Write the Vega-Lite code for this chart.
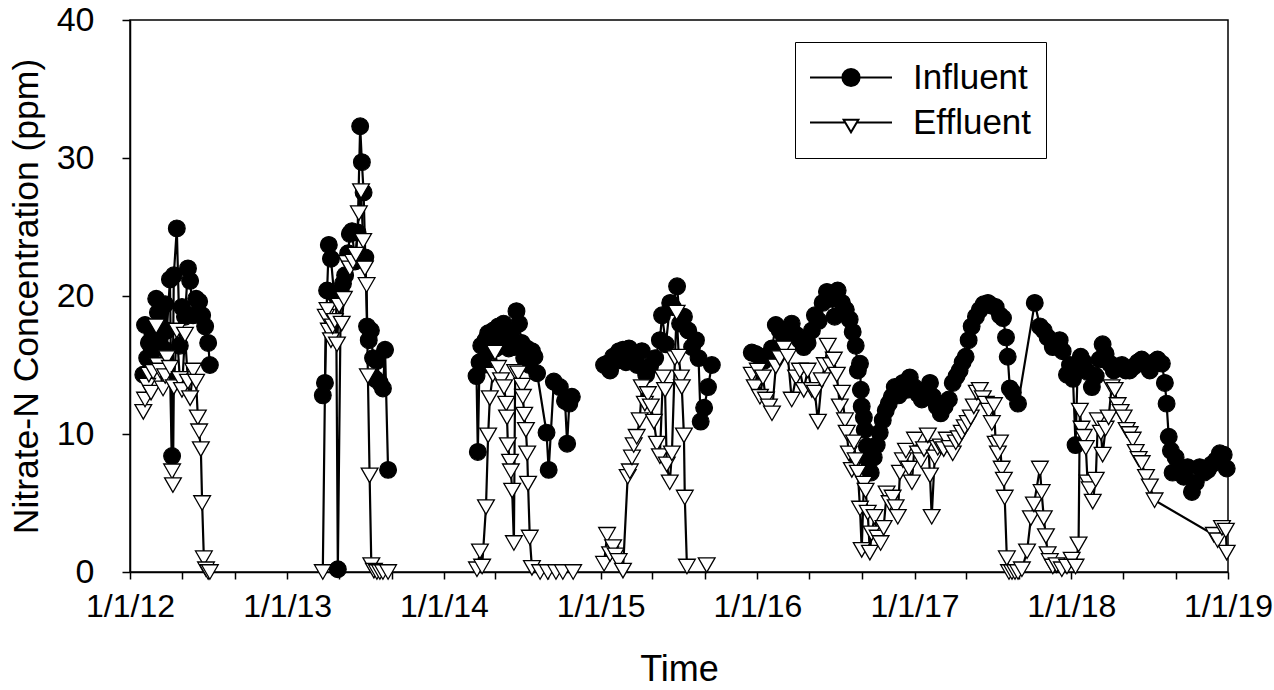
{
  "$schema": "https://vega.github.io/schema/vega-lite/v6.json",
  "autosize": "none",
  "width": 1098,
  "height": 552,
  "padding": {"left": 130, "top": 20, "right": 46, "bottom": 118},
  "background": "white",
  "config": {
    "font": "Liberation Sans",
    "view": {"stroke": "black", "strokeWidth": 1.5},
    "axis": {"domainColor": "black", "domainWidth": 1.5, "tickColor": "black", "tickWidth": 1.5, "labelColor": "black", "titleColor": "black", "labelFont": "Liberation Sans", "titleFont": "Liberation Sans", "titleFontWeight": "normal", "grid": false}
  },
  "data": {"values": [
    {"t":"2012-02-01","v":14.3,"s":"Influent","g":"I1"},
    {"t":"2012-02-05","v":17.9,"s":"Influent","g":"I1"},
    {"t":"2012-02-10","v":15.5,"s":"Influent","g":"I1"},
    {"t":"2012-02-14","v":16.6,"s":"Influent","g":"I1"},
    {"t":"2012-02-19","v":15.8,"s":"Influent","g":"I1"},
    {"t":"2012-02-24","v":17.2,"s":"Influent","g":"I1"},
    {"t":"2012-03-02","v":19.8,"s":"Influent","g":"I1"},
    {"t":"2012-03-06","v":18.8,"s":"Influent","g":"I1"},
    {"t":"2012-03-11","v":17.0,"s":"Influent","g":"I1"},
    {"t":"2012-03-18","v":16.2,"s":"Influent","g":"I1"},
    {"t":"2012-03-23","v":19.4,"s":"Influent","g":"I1"},
    {"t":"2012-03-27","v":17.5,"s":"Influent","g":"I1"},
    {"t":"2012-04-03","v":21.2,"s":"Influent","g":"I1"},
    {"t":"2012-04-08","v":8.4,"s":"Influent","g":"I1"},
    {"t":"2012-04-12","v":21.5,"s":"Influent","g":"I1"},
    {"t":"2012-04-19","v":24.9,"s":"Influent","g":"I1"},
    {"t":"2012-04-26","v":16.4,"s":"Influent","g":"I1"},
    {"t":"2012-05-01","v":19.2,"s":"Influent","g":"I1"},
    {"t":"2012-05-08","v":18.5,"s":"Influent","g":"I1"},
    {"t":"2012-05-15","v":22.0,"s":"Influent","g":"I1"},
    {"t":"2012-05-20","v":21.1,"s":"Influent","g":"I1"},
    {"t":"2012-05-27","v":18.6,"s":"Influent","g":"I1"},
    {"t":"2012-06-03","v":19.8,"s":"Influent","g":"I1"},
    {"t":"2012-06-10","v":19.6,"s":"Influent","g":"I1"},
    {"t":"2012-06-17","v":18.6,"s":"Influent","g":"I1"},
    {"t":"2012-06-24","v":17.8,"s":"Influent","g":"I1"},
    {"t":"2012-07-01","v":16.6,"s":"Influent","g":"I1"},
    {"t":"2012-07-05","v":15.0,"s":"Influent","g":"I1"},
    {"t":"2013-03-25","v":12.8,"s":"Influent","g":"I2"},
    {"t":"2013-03-30","v":13.7,"s":"Influent","g":"I2"},
    {"t":"2013-04-04","v":20.4,"s":"Influent","g":"I2"},
    {"t":"2013-04-08","v":23.7,"s":"Influent","g":"I2"},
    {"t":"2013-04-13","v":22.7,"s":"Influent","g":"I2"},
    {"t":"2013-04-20","v":20.2,"s":"Influent","g":"I2"},
    {"t":"2013-04-25","v":20.0,"s":"Influent","g":"I2"},
    {"t":"2013-04-29","v":0.2,"s":"Influent","g":"I2"},
    {"t":"2013-05-06","v":20.3,"s":"Influent","g":"I2"},
    {"t":"2013-05-11","v":20.9,"s":"Influent","g":"I2"},
    {"t":"2013-05-16","v":21.5,"s":"Influent","g":"I2"},
    {"t":"2013-05-23","v":23.1,"s":"Influent","g":"I2"},
    {"t":"2013-05-27","v":24.5,"s":"Influent","g":"I2"},
    {"t":"2013-06-01","v":24.7,"s":"Influent","g":"I2"},
    {"t":"2013-06-08","v":22.5,"s":"Influent","g":"I2"},
    {"t":"2013-06-14","v":24.6,"s":"Influent","g":"I2"},
    {"t":"2013-06-20","v":32.3,"s":"Influent","g":"I2"},
    {"t":"2013-06-24","v":29.7,"s":"Influent","g":"I2"},
    {"t":"2013-06-28","v":27.5,"s":"Influent","g":"I2"},
    {"t":"2013-07-02","v":22.8,"s":"Influent","g":"I2"},
    {"t":"2013-07-06","v":17.8,"s":"Influent","g":"I2"},
    {"t":"2013-07-10","v":16.8,"s":"Influent","g":"I2"},
    {"t":"2013-07-15","v":17.5,"s":"Influent","g":"I2"},
    {"t":"2013-07-20","v":15.5,"s":"Influent","g":"I2"},
    {"t":"2013-07-25","v":14.0,"s":"Influent","g":"I2"},
    {"t":"2013-07-29","v":15.3,"s":"Influent","g":"I2"},
    {"t":"2013-08-05","v":13.7,"s":"Influent","g":"I2"},
    {"t":"2013-08-12","v":13.3,"s":"Influent","g":"I2"},
    {"t":"2013-08-17","v":16.1,"s":"Influent","g":"I2"},
    {"t":"2013-08-24","v":7.4,"s":"Influent","g":"I2"},
    {"t":"2014-03-18","v":14.2,"s":"Influent","g":"I3"},
    {"t":"2014-03-21","v":8.7,"s":"Influent","g":"I3"},
    {"t":"2014-03-25","v":15.2,"s":"Influent","g":"I3"},
    {"t":"2014-03-29","v":16.4,"s":"Influent","g":"I3"},
    {"t":"2014-04-03","v":15.0,"s":"Influent","g":"I3"},
    {"t":"2014-04-08","v":16.8,"s":"Influent","g":"I3"},
    {"t":"2014-04-14","v":17.3,"s":"Influent","g":"I3"},
    {"t":"2014-04-20","v":16.0,"s":"Influent","g":"I3"},
    {"t":"2014-04-26","v":17.5,"s":"Influent","g":"I3"},
    {"t":"2014-05-02","v":16.2,"s":"Influent","g":"I3"},
    {"t":"2014-05-08","v":17.8,"s":"Influent","g":"I3"},
    {"t":"2014-05-14","v":16.5,"s":"Influent","g":"I3"},
    {"t":"2014-05-20","v":18.0,"s":"Influent","g":"I3"},
    {"t":"2014-05-26","v":17.0,"s":"Influent","g":"I3"},
    {"t":"2014-06-01","v":16.2,"s":"Influent","g":"I3"},
    {"t":"2014-06-07","v":17.4,"s":"Influent","g":"I3"},
    {"t":"2014-06-13","v":16.3,"s":"Influent","g":"I3"},
    {"t":"2014-06-19","v":18.9,"s":"Influent","g":"I3"},
    {"t":"2014-06-25","v":18.0,"s":"Influent","g":"I3"},
    {"t":"2014-07-01","v":16.6,"s":"Influent","g":"I3"},
    {"t":"2014-07-07","v":15.5,"s":"Influent","g":"I3"},
    {"t":"2014-07-13","v":16.2,"s":"Influent","g":"I3"},
    {"t":"2014-07-19","v":15.0,"s":"Influent","g":"I3"},
    {"t":"2014-07-25","v":16.0,"s":"Influent","g":"I3"},
    {"t":"2014-07-31","v":15.6,"s":"Influent","g":"I3"},
    {"t":"2014-08-06","v":14.4,"s":"Influent","g":"I3"},
    {"t":"2014-08-28","v":10.1,"s":"Influent","g":"I3"},
    {"t":"2014-09-02","v":7.4,"s":"Influent","g":"I3"},
    {"t":"2014-09-14","v":13.8,"s":"Influent","g":"I3"},
    {"t":"2014-09-28","v":13.4,"s":"Influent","g":"I3"},
    {"t":"2014-10-10","v":12.4,"s":"Influent","g":"I3"},
    {"t":"2014-10-15","v":9.3,"s":"Influent","g":"I3"},
    {"t":"2014-10-20","v":12.2,"s":"Influent","g":"I3"},
    {"t":"2014-10-26","v":12.7,"s":"Influent","g":"I3"},
    {"t":"2015-01-09","v":15.0,"s":"Influent","g":"I4"},
    {"t":"2015-01-16","v":15.1,"s":"Influent","g":"I4"},
    {"t":"2015-01-23","v":14.6,"s":"Influent","g":"I4"},
    {"t":"2015-01-30","v":15.6,"s":"Influent","g":"I4"},
    {"t":"2015-02-06","v":15.3,"s":"Influent","g":"I4"},
    {"t":"2015-02-13","v":16.0,"s":"Influent","g":"I4"},
    {"t":"2015-02-22","v":16.1,"s":"Influent","g":"I4"},
    {"t":"2015-03-01","v":15.2,"s":"Influent","g":"I4"},
    {"t":"2015-03-08","v":16.2,"s":"Influent","g":"I4"},
    {"t":"2015-03-17","v":15.4,"s":"Influent","g":"I4"},
    {"t":"2015-03-27","v":15.0,"s":"Influent","g":"I4"},
    {"t":"2015-04-07","v":16.0,"s":"Influent","g":"I4"},
    {"t":"2015-04-17","v":14.3,"s":"Influent","g":"I4"},
    {"t":"2015-04-26","v":14.9,"s":"Influent","g":"I4"},
    {"t":"2015-05-08","v":15.5,"s":"Influent","g":"I4"},
    {"t":"2015-05-19","v":16.8,"s":"Influent","g":"I4"},
    {"t":"2015-05-24","v":18.6,"s":"Influent","g":"I4"},
    {"t":"2015-06-02","v":16.5,"s":"Influent","g":"I4"},
    {"t":"2015-06-12","v":19.5,"s":"Influent","g":"I4"},
    {"t":"2015-06-18","v":19.2,"s":"Influent","g":"I4"},
    {"t":"2015-06-28","v":20.7,"s":"Influent","g":"I4"},
    {"t":"2015-07-05","v":18.0,"s":"Influent","g":"I4"},
    {"t":"2015-07-14","v":18.5,"s":"Influent","g":"I4"},
    {"t":"2015-07-24","v":17.5,"s":"Influent","g":"I4"},
    {"t":"2015-08-02","v":16.3,"s":"Influent","g":"I4"},
    {"t":"2015-08-11","v":16.8,"s":"Influent","g":"I4"},
    {"t":"2015-08-17","v":15.5,"s":"Influent","g":"I4"},
    {"t":"2015-08-22","v":10.9,"s":"Influent","g":"I4"},
    {"t":"2015-08-30","v":11.9,"s":"Influent","g":"I4"},
    {"t":"2015-09-08","v":13.4,"s":"Influent","g":"I4"},
    {"t":"2015-09-17","v":15.0,"s":"Influent","g":"I4"},
    {"t":"2015-12-19","v":15.9,"s":"Influent","g":"I5"},
    {"t":"2015-12-28","v":15.8,"s":"Influent","g":"I5"},
    {"t":"2016-01-07","v":15.6,"s":"Influent","g":"I5"},
    {"t":"2016-01-16","v":15.3,"s":"Influent","g":"I5"},
    {"t":"2016-01-25","v":15.6,"s":"Influent","g":"I5"},
    {"t":"2016-02-04","v":16.2,"s":"Influent","g":"I5"},
    {"t":"2016-02-13","v":17.9,"s":"Influent","g":"I5"},
    {"t":"2016-02-22","v":17.5,"s":"Influent","g":"I5"},
    {"t":"2016-03-03","v":17.0,"s":"Influent","g":"I5"},
    {"t":"2016-03-12","v":17.6,"s":"Influent","g":"I5"},
    {"t":"2016-03-21","v":18.0,"s":"Influent","g":"I5"},
    {"t":"2016-03-31","v":17.2,"s":"Influent","g":"I5"},
    {"t":"2016-04-09","v":16.8,"s":"Influent","g":"I5"},
    {"t":"2016-04-18","v":16.3,"s":"Influent","g":"I5"},
    {"t":"2016-04-27","v":16.6,"s":"Influent","g":"I5"},
    {"t":"2016-05-07","v":17.5,"s":"Influent","g":"I5"},
    {"t":"2016-05-14","v":18.6,"s":"Influent","g":"I5"},
    {"t":"2016-05-23","v":18.2,"s":"Influent","g":"I5"},
    {"t":"2016-06-01","v":19.5,"s":"Influent","g":"I5"},
    {"t":"2016-06-11","v":20.3,"s":"Influent","g":"I5"},
    {"t":"2016-06-20","v":19.8,"s":"Influent","g":"I5"},
    {"t":"2016-06-29","v":18.5,"s":"Influent","g":"I5"},
    {"t":"2016-07-06","v":20.4,"s":"Influent","g":"I5"},
    {"t":"2016-07-16","v":19.5,"s":"Influent","g":"I5"},
    {"t":"2016-07-25","v":19.0,"s":"Influent","g":"I5"},
    {"t":"2016-08-03","v":18.3,"s":"Influent","g":"I5"},
    {"t":"2016-08-10","v":17.4,"s":"Influent","g":"I5"},
    {"t":"2016-08-17","v":16.4,"s":"Influent","g":"I5"},
    {"t":"2016-08-22","v":14.6,"s":"Influent","g":"I5"},
    {"t":"2016-08-27","v":15.1,"s":"Influent","g":"I5"},
    {"t":"2016-08-29","v":13.2,"s":"Influent","g":"I5"},
    {"t":"2016-08-31","v":12.0,"s":"Influent","g":"I5"},
    {"t":"2016-09-05","v":11.2,"s":"Influent","g":"I5"},
    {"t":"2016-09-07","v":10.3,"s":"Influent","g":"I5"},
    {"t":"2016-09-12","v":9.1,"s":"Influent","g":"I5"},
    {"t":"2016-09-16","v":8.1,"s":"Influent","g":"I5"},
    {"t":"2016-09-21","v":7.2,"s":"Influent","g":"I5"},
    {"t":"2016-09-28","v":8.3,"s":"Influent","g":"I5"},
    {"t":"2016-10-05","v":9.2,"s":"Influent","g":"I5"},
    {"t":"2016-10-12","v":10.1,"s":"Influent","g":"I5"},
    {"t":"2016-10-19","v":11.0,"s":"Influent","g":"I5"},
    {"t":"2016-10-26","v":11.7,"s":"Influent","g":"I5"},
    {"t":"2016-11-02","v":12.2,"s":"Influent","g":"I5"},
    {"t":"2016-11-09","v":12.7,"s":"Influent","g":"I5"},
    {"t":"2016-11-16","v":13.4,"s":"Influent","g":"I5"},
    {"t":"2016-11-25","v":12.8,"s":"Influent","g":"I5"},
    {"t":"2016-12-05","v":13.7,"s":"Influent","g":"I5"},
    {"t":"2016-12-14","v":13.2,"s":"Influent","g":"I5"},
    {"t":"2016-12-21","v":14.1,"s":"Influent","g":"I5"},
    {"t":"2016-12-31","v":13.4,"s":"Influent","g":"I5"},
    {"t":"2017-01-09","v":12.9,"s":"Influent","g":"I5"},
    {"t":"2017-01-18","v":12.5,"s":"Influent","g":"I5"},
    {"t":"2017-01-27","v":13.2,"s":"Influent","g":"I5"},
    {"t":"2017-02-06","v":13.7,"s":"Influent","g":"I5"},
    {"t":"2017-02-13","v":12.7,"s":"Influent","g":"I5"},
    {"t":"2017-02-22","v":12.0,"s":"Influent","g":"I5"},
    {"t":"2017-03-03","v":11.5,"s":"Influent","g":"I5"},
    {"t":"2017-03-12","v":12.0,"s":"Influent","g":"I5"},
    {"t":"2017-03-22","v":12.5,"s":"Influent","g":"I5"},
    {"t":"2017-03-31","v":13.7,"s":"Influent","g":"I5"},
    {"t":"2017-04-09","v":14.2,"s":"Influent","g":"I5"},
    {"t":"2017-04-16","v":14.6,"s":"Influent","g":"I5"},
    {"t":"2017-04-23","v":15.2,"s":"Influent","g":"I5"},
    {"t":"2017-04-30","v":15.6,"s":"Influent","g":"I5"},
    {"t":"2017-05-07","v":16.8,"s":"Influent","g":"I5"},
    {"t":"2017-05-14","v":17.8,"s":"Influent","g":"I5"},
    {"t":"2017-05-24","v":18.5,"s":"Influent","g":"I5"},
    {"t":"2017-06-02","v":19.0,"s":"Influent","g":"I5"},
    {"t":"2017-06-11","v":19.4,"s":"Influent","g":"I5"},
    {"t":"2017-06-21","v":19.5,"s":"Influent","g":"I5"},
    {"t":"2017-06-30","v":19.3,"s":"Influent","g":"I5"},
    {"t":"2017-07-09","v":19.2,"s":"Influent","g":"I5"},
    {"t":"2017-07-19","v":18.6,"s":"Influent","g":"I5"},
    {"t":"2017-07-26","v":18.4,"s":"Influent","g":"I5"},
    {"t":"2017-08-02","v":17.0,"s":"Influent","g":"I5"},
    {"t":"2017-08-06","v":15.6,"s":"Influent","g":"I5"},
    {"t":"2017-08-11","v":13.3,"s":"Influent","g":"I5"},
    {"t":"2017-08-18","v":13.0,"s":"Influent","g":"I5"},
    {"t":"2017-08-30","v":12.2,"s":"Influent","g":"I5"},
    {"t":"2017-10-08","v":19.5,"s":"Influent","g":"I5"},
    {"t":"2017-10-20","v":17.8,"s":"Influent","g":"I5"},
    {"t":"2017-10-29","v":17.5,"s":"Influent","g":"I5"},
    {"t":"2017-11-07","v":17.0,"s":"Influent","g":"I5"},
    {"t":"2017-11-19","v":16.3,"s":"Influent","g":"I5"},
    {"t":"2017-11-28","v":16.5,"s":"Influent","g":"I5"},
    {"t":"2017-12-05","v":16.8,"s":"Influent","g":"I5"},
    {"t":"2017-12-12","v":16.0,"s":"Influent","g":"I5"},
    {"t":"2017-12-22","v":14.3,"s":"Influent","g":"I5"},
    {"t":"2017-12-29","v":15.0,"s":"Influent","g":"I5"},
    {"t":"2018-01-05","v":14.0,"s":"Influent","g":"I5"},
    {"t":"2018-01-11","v":9.2,"s":"Influent","g":"I5"},
    {"t":"2018-01-16","v":14.9,"s":"Influent","g":"I5"},
    {"t":"2018-01-23","v":15.6,"s":"Influent","g":"I5"},
    {"t":"2018-01-30","v":15.2,"s":"Influent","g":"I5"},
    {"t":"2018-02-08","v":14.5,"s":"Influent","g":"I5"},
    {"t":"2018-02-18","v":13.4,"s":"Influent","g":"I5"},
    {"t":"2018-02-27","v":14.2,"s":"Influent","g":"I5"},
    {"t":"2018-03-08","v":15.4,"s":"Influent","g":"I5"},
    {"t":"2018-03-15","v":16.5,"s":"Influent","g":"I5"},
    {"t":"2018-03-22","v":15.8,"s":"Influent","g":"I5"},
    {"t":"2018-04-01","v":15.1,"s":"Influent","g":"I5"},
    {"t":"2018-04-10","v":14.6,"s":"Influent","g":"I5"},
    {"t":"2018-04-19","v":14.9,"s":"Influent","g":"I5"},
    {"t":"2018-04-29","v":15.0,"s":"Influent","g":"I5"},
    {"t":"2018-05-08","v":14.6,"s":"Influent","g":"I5"},
    {"t":"2018-05-17","v":14.6,"s":"Influent","g":"I5"},
    {"t":"2018-05-27","v":14.9,"s":"Influent","g":"I5"},
    {"t":"2018-06-05","v":15.2,"s":"Influent","g":"I5"},
    {"t":"2018-06-14","v":15.4,"s":"Influent","g":"I5"},
    {"t":"2018-06-24","v":15.0,"s":"Influent","g":"I5"},
    {"t":"2018-07-03","v":14.6,"s":"Influent","g":"I5"},
    {"t":"2018-07-12","v":15.2,"s":"Influent","g":"I5"},
    {"t":"2018-07-21","v":15.4,"s":"Influent","g":"I5"},
    {"t":"2018-07-31","v":15.1,"s":"Influent","g":"I5"},
    {"t":"2018-08-07","v":13.7,"s":"Influent","g":"I5"},
    {"t":"2018-08-11","v":12.2,"s":"Influent","g":"I5"},
    {"t":"2018-08-16","v":9.8,"s":"Influent","g":"I5"},
    {"t":"2018-08-21","v":8.8,"s":"Influent","g":"I5"},
    {"t":"2018-08-25","v":7.2,"s":"Influent","g":"I5"},
    {"t":"2018-09-01","v":8.3,"s":"Influent","g":"I5"},
    {"t":"2018-09-11","v":7.6,"s":"Influent","g":"I5"},
    {"t":"2018-09-20","v":6.9,"s":"Influent","g":"I5"},
    {"t":"2018-09-29","v":7.6,"s":"Influent","g":"I5"},
    {"t":"2018-10-09","v":5.8,"s":"Influent","g":"I5"},
    {"t":"2018-10-18","v":6.5,"s":"Influent","g":"I5"},
    {"t":"2018-10-27","v":7.6,"s":"Influent","g":"I5"},
    {"t":"2018-11-06","v":7.2,"s":"Influent","g":"I5"},
    {"t":"2018-11-15","v":7.4,"s":"Influent","g":"I5"},
    {"t":"2018-11-24","v":7.8,"s":"Influent","g":"I5"},
    {"t":"2018-12-04","v":8.1,"s":"Influent","g":"I5"},
    {"t":"2018-12-13","v":8.6,"s":"Influent","g":"I5"},
    {"t":"2018-12-22","v":8.5,"s":"Influent","g":"I5"},
    {"t":"2018-12-29","v":7.5,"s":"Influent","g":"I5"},
    {"t":"2012-02-01","v":11.6,"s":"Effluent","g":"E1"},
    {"t":"2012-02-05","v":12.5,"s":"Effluent","g":"E1"},
    {"t":"2012-02-10","v":13.5,"s":"Effluent","g":"E1"},
    {"t":"2012-02-14","v":14.3,"s":"Effluent","g":"E1"},
    {"t":"2012-02-19","v":13.0,"s":"Effluent","g":"E1"},
    {"t":"2012-02-24","v":14.5,"s":"Effluent","g":"E1"},
    {"t":"2012-03-02","v":17.8,"s":"Effluent","g":"E1"},
    {"t":"2012-03-06","v":15.0,"s":"Effluent","g":"E1"},
    {"t":"2012-03-11","v":14.6,"s":"Effluent","g":"E1"},
    {"t":"2012-03-18","v":13.3,"s":"Effluent","g":"E1"},
    {"t":"2012-03-23","v":14.2,"s":"Effluent","g":"E1"},
    {"t":"2012-03-27","v":15.5,"s":"Effluent","g":"E1"},
    {"t":"2012-04-03","v":14.8,"s":"Effluent","g":"E1"},
    {"t":"2012-04-08","v":7.3,"s":"Effluent","g":"E1"},
    {"t":"2012-04-10","v":6.3,"s":"Effluent","g":"E1"},
    {"t":"2012-04-12","v":13.4,"s":"Effluent","g":"E1"},
    {"t":"2012-04-19","v":17.5,"s":"Effluent","g":"E1"},
    {"t":"2012-04-26","v":14.0,"s":"Effluent","g":"E1"},
    {"t":"2012-05-01","v":13.2,"s":"Effluent","g":"E1"},
    {"t":"2012-05-08","v":17.2,"s":"Effluent","g":"E1"},
    {"t":"2012-05-15","v":13.8,"s":"Effluent","g":"E1"},
    {"t":"2012-05-20","v":12.6,"s":"Effluent","g":"E1"},
    {"t":"2012-05-27","v":14.6,"s":"Effluent","g":"E1"},
    {"t":"2012-06-03","v":13.8,"s":"Effluent","g":"E1"},
    {"t":"2012-06-07","v":11.2,"s":"Effluent","g":"E1"},
    {"t":"2012-06-10","v":10.2,"s":"Effluent","g":"E1"},
    {"t":"2012-06-14","v":8.9,"s":"Effluent","g":"E1"},
    {"t":"2012-06-17","v":5.0,"s":"Effluent","g":"E1"},
    {"t":"2012-06-21","v":1.0,"s":"Effluent","g":"E1"},
    {"t":"2012-06-26","v":0.2,"s":"Effluent","g":"E1"},
    {"t":"2012-07-01","v":0.0,"s":"Effluent","g":"E1"},
    {"t":"2012-07-05","v":0.0,"s":"Effluent","g":"E1"},
    {"t":"2013-03-25","v":0.0,"s":"Effluent","g":"E2"},
    {"t":"2013-04-01","v":18.5,"s":"Effluent","g":"E2"},
    {"t":"2013-04-05","v":19.0,"s":"Effluent","g":"E2"},
    {"t":"2013-04-08","v":17.5,"s":"Effluent","g":"E2"},
    {"t":"2013-04-13","v":16.8,"s":"Effluent","g":"E2"},
    {"t":"2013-04-17","v":17.8,"s":"Effluent","g":"E2"},
    {"t":"2013-04-22","v":18.2,"s":"Effluent","g":"E2"},
    {"t":"2013-04-27","v":16.5,"s":"Effluent","g":"E2"},
    {"t":"2013-05-02","v":19.3,"s":"Effluent","g":"E2"},
    {"t":"2013-05-08","v":18.0,"s":"Effluent","g":"E2"},
    {"t":"2013-05-13","v":19.8,"s":"Effluent","g":"E2"},
    {"t":"2013-05-20","v":22.4,"s":"Effluent","g":"E2"},
    {"t":"2013-05-27","v":22.0,"s":"Effluent","g":"E2"},
    {"t":"2013-06-03","v":22.5,"s":"Effluent","g":"E2"},
    {"t":"2013-06-10","v":23.0,"s":"Effluent","g":"E2"},
    {"t":"2013-06-17","v":26.0,"s":"Effluent","g":"E2"},
    {"t":"2013-06-22","v":27.6,"s":"Effluent","g":"E2"},
    {"t":"2013-06-27","v":24.0,"s":"Effluent","g":"E2"},
    {"t":"2013-07-01","v":22.0,"s":"Effluent","g":"E2"},
    {"t":"2013-07-05","v":20.8,"s":"Effluent","g":"E2"},
    {"t":"2013-07-08","v":14.2,"s":"Effluent","g":"E2"},
    {"t":"2013-07-12","v":7.0,"s":"Effluent","g":"E2"},
    {"t":"2013-07-16","v":0.5,"s":"Effluent","g":"E2"},
    {"t":"2013-07-22","v":0.1,"s":"Effluent","g":"E2"},
    {"t":"2013-07-29","v":0.0,"s":"Effluent","g":"E2"},
    {"t":"2013-08-05","v":0.0,"s":"Effluent","g":"E2"},
    {"t":"2013-08-12","v":0.0,"s":"Effluent","g":"E2"},
    {"t":"2013-08-24","v":0.0,"s":"Effluent","g":"E2"},
    {"t":"2014-03-19","v":0.2,"s":"Effluent","g":"E3"},
    {"t":"2014-03-26","v":1.5,"s":"Effluent","g":"E3"},
    {"t":"2014-03-31","v":0.4,"s":"Effluent","g":"E3"},
    {"t":"2014-04-09","v":4.7,"s":"Effluent","g":"E3"},
    {"t":"2014-04-14","v":9.9,"s":"Effluent","g":"E3"},
    {"t":"2014-04-18","v":12.6,"s":"Effluent","g":"E3"},
    {"t":"2014-04-25","v":14.3,"s":"Effluent","g":"E3"},
    {"t":"2014-04-30","v":15.9,"s":"Effluent","g":"E3"},
    {"t":"2014-05-07","v":14.8,"s":"Effluent","g":"E3"},
    {"t":"2014-05-14","v":13.9,"s":"Effluent","g":"E3"},
    {"t":"2014-05-21","v":13.4,"s":"Effluent","g":"E3"},
    {"t":"2014-05-26","v":12.2,"s":"Effluent","g":"E3"},
    {"t":"2014-05-28","v":11.2,"s":"Effluent","g":"E3"},
    {"t":"2014-05-30","v":9.2,"s":"Effluent","g":"E3"},
    {"t":"2014-06-04","v":8.0,"s":"Effluent","g":"E3"},
    {"t":"2014-06-06","v":7.3,"s":"Effluent","g":"E3"},
    {"t":"2014-06-09","v":5.9,"s":"Effluent","g":"E3"},
    {"t":"2014-06-13","v":2.1,"s":"Effluent","g":"E3"},
    {"t":"2014-06-16","v":14.5,"s":"Effluent","g":"E3"},
    {"t":"2014-06-23","v":14.4,"s":"Effluent","g":"E3"},
    {"t":"2014-07-02","v":13.5,"s":"Effluent","g":"E3"},
    {"t":"2014-07-04","v":12.7,"s":"Effluent","g":"E3"},
    {"t":"2014-07-07","v":11.4,"s":"Effluent","g":"E3"},
    {"t":"2014-07-11","v":10.3,"s":"Effluent","g":"E3"},
    {"t":"2014-07-14","v":8.6,"s":"Effluent","g":"E3"},
    {"t":"2014-07-16","v":6.4,"s":"Effluent","g":"E3"},
    {"t":"2014-07-20","v":2.5,"s":"Effluent","g":"E3"},
    {"t":"2014-07-25","v":0.3,"s":"Effluent","g":"E3"},
    {"t":"2014-08-13","v":0.0,"s":"Effluent","g":"E3"},
    {"t":"2014-08-31","v":0.0,"s":"Effluent","g":"E3"},
    {"t":"2014-09-19","v":0.0,"s":"Effluent","g":"E3"},
    {"t":"2014-10-05","v":0.0,"s":"Effluent","g":"E3"},
    {"t":"2014-10-29","v":0.0,"s":"Effluent","g":"E3"},
    {"t":"2015-01-09","v":0.6,"s":"Effluent","g":"E4"},
    {"t":"2015-01-16","v":2.7,"s":"Effluent","g":"E4"},
    {"t":"2015-01-23","v":1.3,"s":"Effluent","g":"E4"},
    {"t":"2015-01-30","v":1.8,"s":"Effluent","g":"E4"},
    {"t":"2015-02-05","v":1.2,"s":"Effluent","g":"E4"},
    {"t":"2015-02-12","v":0.8,"s":"Effluent","g":"E4"},
    {"t":"2015-02-22","v":0.1,"s":"Effluent","g":"E4"},
    {"t":"2015-03-05","v":6.9,"s":"Effluent","g":"E4"},
    {"t":"2015-03-10","v":7.3,"s":"Effluent","g":"E4"},
    {"t":"2015-03-15","v":8.3,"s":"Effluent","g":"E4"},
    {"t":"2015-03-19","v":9.2,"s":"Effluent","g":"E4"},
    {"t":"2015-03-26","v":9.8,"s":"Effluent","g":"E4"},
    {"t":"2015-04-02","v":11.0,"s":"Effluent","g":"E4"},
    {"t":"2015-04-07","v":13.4,"s":"Effluent","g":"E4"},
    {"t":"2015-04-14","v":12.2,"s":"Effluent","g":"E4"},
    {"t":"2015-04-21","v":12.9,"s":"Effluent","g":"E4"},
    {"t":"2015-04-28","v":12.0,"s":"Effluent","g":"E4"},
    {"t":"2015-05-05","v":10.9,"s":"Effluent","g":"E4"},
    {"t":"2015-05-12","v":9.3,"s":"Effluent","g":"E4"},
    {"t":"2015-05-19","v":8.4,"s":"Effluent","g":"E4"},
    {"t":"2015-05-26","v":14.1,"s":"Effluent","g":"E4"},
    {"t":"2015-05-31","v":13.2,"s":"Effluent","g":"E4"},
    {"t":"2015-06-04","v":7.8,"s":"Effluent","g":"E4"},
    {"t":"2015-06-11","v":6.5,"s":"Effluent","g":"E4"},
    {"t":"2015-06-16","v":8.6,"s":"Effluent","g":"E4"},
    {"t":"2015-06-23","v":15.5,"s":"Effluent","g":"E4"},
    {"t":"2015-06-27","v":18.8,"s":"Effluent","g":"E4"},
    {"t":"2015-07-02","v":15.6,"s":"Effluent","g":"E4"},
    {"t":"2015-07-07","v":14.1,"s":"Effluent","g":"E4"},
    {"t":"2015-07-09","v":13.4,"s":"Effluent","g":"E4"},
    {"t":"2015-07-14","v":9.9,"s":"Effluent","g":"E4"},
    {"t":"2015-07-16","v":5.4,"s":"Effluent","g":"E4"},
    {"t":"2015-07-21","v":0.4,"s":"Effluent","g":"E4"},
    {"t":"2015-09-05","v":0.5,"s":"Effluent","g":"E4b"},
    {"t":"2015-12-19","v":14.3,"s":"Effluent","g":"E5"},
    {"t":"2015-12-26","v":13.4,"s":"Effluent","g":"E5"},
    {"t":"2016-01-02","v":14.6,"s":"Effluent","g":"E5"},
    {"t":"2016-01-07","v":12.7,"s":"Effluent","g":"E5"},
    {"t":"2016-01-14","v":14.1,"s":"Effluent","g":"E5"},
    {"t":"2016-01-21","v":12.5,"s":"Effluent","g":"E5"},
    {"t":"2016-01-28","v":12.0,"s":"Effluent","g":"E5"},
    {"t":"2016-02-04","v":11.5,"s":"Effluent","g":"E5"},
    {"t":"2016-02-13","v":14.9,"s":"Effluent","g":"E5"},
    {"t":"2016-02-22","v":15.5,"s":"Effluent","g":"E5"},
    {"t":"2016-03-03","v":16.2,"s":"Effluent","g":"E5"},
    {"t":"2016-03-12","v":15.6,"s":"Effluent","g":"E5"},
    {"t":"2016-03-21","v":12.5,"s":"Effluent","g":"E5"},
    {"t":"2016-03-31","v":14.1,"s":"Effluent","g":"E5"},
    {"t":"2016-04-09","v":14.6,"s":"Effluent","g":"E5"},
    {"t":"2016-04-18","v":13.2,"s":"Effluent","g":"E5"},
    {"t":"2016-04-27","v":14.6,"s":"Effluent","g":"E5"},
    {"t":"2016-05-07","v":13.2,"s":"Effluent","g":"E5"},
    {"t":"2016-05-14","v":13.0,"s":"Effluent","g":"E5"},
    {"t":"2016-05-21","v":10.9,"s":"Effluent","g":"E5"},
    {"t":"2016-05-30","v":13.9,"s":"Effluent","g":"E5"},
    {"t":"2016-06-06","v":15.0,"s":"Effluent","g":"E5"},
    {"t":"2016-06-13","v":16.4,"s":"Effluent","g":"E5"},
    {"t":"2016-06-20","v":15.0,"s":"Effluent","g":"E5"},
    {"t":"2016-06-27","v":15.4,"s":"Effluent","g":"E5"},
    {"t":"2016-07-04","v":14.3,"s":"Effluent","g":"E5"},
    {"t":"2016-07-11","v":12.0,"s":"Effluent","g":"E5"},
    {"t":"2016-07-16","v":13.0,"s":"Effluent","g":"E5"},
    {"t":"2016-07-23","v":11.0,"s":"Effluent","g":"E5"},
    {"t":"2016-07-27","v":10.1,"s":"Effluent","g":"E5"},
    {"t":"2016-08-01","v":8.6,"s":"Effluent","g":"E5"},
    {"t":"2016-08-08","v":7.4,"s":"Effluent","g":"E5"},
    {"t":"2016-08-13","v":9.4,"s":"Effluent","g":"E5"},
    {"t":"2016-08-17","v":8.1,"s":"Effluent","g":"E5"},
    {"t":"2016-08-22","v":7.2,"s":"Effluent","g":"E5"},
    {"t":"2016-08-27","v":4.6,"s":"Effluent","g":"E5"},
    {"t":"2016-08-31","v":1.6,"s":"Effluent","g":"E5"},
    {"t":"2016-09-05","v":6.4,"s":"Effluent","g":"E5"},
    {"t":"2016-09-09","v":5.9,"s":"Effluent","g":"E5"},
    {"t":"2016-09-14","v":4.3,"s":"Effluent","g":"E5"},
    {"t":"2016-09-19","v":1.4,"s":"Effluent","g":"E5"},
    {"t":"2016-09-23","v":2.8,"s":"Effluent","g":"E5"},
    {"t":"2016-09-30","v":4.0,"s":"Effluent","g":"E5"},
    {"t":"2016-10-07","v":2.5,"s":"Effluent","g":"E5"},
    {"t":"2016-10-14","v":2.1,"s":"Effluent","g":"E5"},
    {"t":"2016-10-21","v":3.2,"s":"Effluent","g":"E5"},
    {"t":"2016-10-28","v":5.7,"s":"Effluent","g":"E5"},
    {"t":"2016-11-04","v":5.0,"s":"Effluent","g":"E5"},
    {"t":"2016-11-11","v":5.4,"s":"Effluent","g":"E5"},
    {"t":"2016-11-18","v":4.7,"s":"Effluent","g":"E5"},
    {"t":"2016-11-23","v":4.0,"s":"Effluent","g":"E5"},
    {"t":"2016-11-28","v":7.2,"s":"Effluent","g":"E5"},
    {"t":"2016-12-05","v":8.1,"s":"Effluent","g":"E5"},
    {"t":"2016-12-12","v":8.8,"s":"Effluent","g":"E5"},
    {"t":"2016-12-19","v":7.5,"s":"Effluent","g":"E5"},
    {"t":"2016-12-26","v":6.5,"s":"Effluent","g":"E5"},
    {"t":"2017-01-02","v":9.6,"s":"Effluent","g":"E5"},
    {"t":"2017-01-09","v":8.6,"s":"Effluent","g":"E5"},
    {"t":"2017-01-16","v":8.1,"s":"Effluent","g":"E5"},
    {"t":"2017-01-23","v":8.9,"s":"Effluent","g":"E5"},
    {"t":"2017-02-01","v":9.9,"s":"Effluent","g":"E5"},
    {"t":"2017-02-06","v":7.0,"s":"Effluent","g":"E5"},
    {"t":"2017-02-10","v":4.0,"s":"Effluent","g":"E5"},
    {"t":"2017-02-17","v":8.3,"s":"Effluent","g":"E5"},
    {"t":"2017-02-24","v":9.0,"s":"Effluent","g":"E5"},
    {"t":"2017-03-03","v":9.1,"s":"Effluent","g":"E5"},
    {"t":"2017-03-10","v":8.9,"s":"Effluent","g":"E5"},
    {"t":"2017-03-17","v":9.6,"s":"Effluent","g":"E5"},
    {"t":"2017-03-24","v":9.0,"s":"Effluent","g":"E5"},
    {"t":"2017-03-31","v":8.6,"s":"Effluent","g":"E5"},
    {"t":"2017-04-07","v":9.4,"s":"Effluent","g":"E5"},
    {"t":"2017-04-14","v":9.7,"s":"Effluent","g":"E5"},
    {"t":"2017-04-21","v":10.1,"s":"Effluent","g":"E5"},
    {"t":"2017-04-28","v":10.5,"s":"Effluent","g":"E5"},
    {"t":"2017-05-05","v":10.8,"s":"Effluent","g":"E5"},
    {"t":"2017-05-12","v":11.2,"s":"Effluent","g":"E5"},
    {"t":"2017-05-19","v":12.0,"s":"Effluent","g":"E5"},
    {"t":"2017-05-26","v":13.0,"s":"Effluent","g":"E5"},
    {"t":"2017-06-02","v":13.2,"s":"Effluent","g":"E5"},
    {"t":"2017-06-09","v":12.6,"s":"Effluent","g":"E5"},
    {"t":"2017-06-16","v":12.2,"s":"Effluent","g":"E5"},
    {"t":"2017-06-23","v":11.7,"s":"Effluent","g":"E5"},
    {"t":"2017-06-30","v":10.8,"s":"Effluent","g":"E5"},
    {"t":"2017-07-05","v":12.1,"s":"Effluent","g":"E5"},
    {"t":"2017-07-09","v":9.3,"s":"Effluent","g":"E5"},
    {"t":"2017-07-14","v":8.6,"s":"Effluent","g":"E5"},
    {"t":"2017-07-19","v":9.4,"s":"Effluent","g":"E5"},
    {"t":"2017-07-23","v":7.5,"s":"Effluent","g":"E5"},
    {"t":"2017-07-28","v":6.7,"s":"Effluent","g":"E5"},
    {"t":"2017-07-30","v":5.4,"s":"Effluent","g":"E5"},
    {"t":"2017-08-04","v":1.0,"s":"Effluent","g":"E5"},
    {"t":"2017-08-09","v":0.0,"s":"Effluent","g":"E5"},
    {"t":"2017-08-16","v":0.0,"s":"Effluent","g":"E5"},
    {"t":"2017-08-23","v":0.0,"s":"Effluent","g":"E5"},
    {"t":"2017-08-30","v":0.0,"s":"Effluent","g":"E5"},
    {"t":"2017-09-08","v":0.2,"s":"Effluent","g":"E5"},
    {"t":"2017-09-20","v":1.5,"s":"Effluent","g":"E5"},
    {"t":"2017-09-29","v":3.9,"s":"Effluent","g":"E5"},
    {"t":"2017-10-06","v":4.9,"s":"Effluent","g":"E5"},
    {"t":"2017-10-20","v":7.5,"s":"Effluent","g":"E5"},
    {"t":"2017-10-24","v":5.8,"s":"Effluent","g":"E5"},
    {"t":"2017-10-29","v":3.9,"s":"Effluent","g":"E5"},
    {"t":"2017-11-03","v":2.6,"s":"Effluent","g":"E5"},
    {"t":"2017-11-07","v":1.3,"s":"Effluent","g":"E5"},
    {"t":"2017-11-12","v":0.8,"s":"Effluent","g":"E5"},
    {"t":"2017-11-19","v":0.4,"s":"Effluent","g":"E5"},
    {"t":"2017-11-28","v":0.5,"s":"Effluent","g":"E5"},
    {"t":"2017-12-10","v":0.2,"s":"Effluent","g":"E5"},
    {"t":"2017-12-22","v":0.4,"s":"Effluent","g":"E5"},
    {"t":"2018-01-02","v":0.9,"s":"Effluent","g":"E5"},
    {"t":"2018-01-11","v":0.4,"s":"Effluent","g":"E5"},
    {"t":"2018-01-18","v":2.0,"s":"Effluent","g":"E5"},
    {"t":"2018-01-21","v":11.7,"s":"Effluent","g":"E5"},
    {"t":"2018-01-25","v":10.4,"s":"Effluent","g":"E5"},
    {"t":"2018-01-30","v":9.8,"s":"Effluent","g":"E5"},
    {"t":"2018-02-04","v":9.0,"s":"Effluent","g":"E5"},
    {"t":"2018-02-08","v":6.5,"s":"Effluent","g":"E5"},
    {"t":"2018-02-13","v":6.0,"s":"Effluent","g":"E5"},
    {"t":"2018-02-20","v":5.1,"s":"Effluent","g":"E5"},
    {"t":"2018-02-27","v":6.7,"s":"Effluent","g":"E5"},
    {"t":"2018-03-04","v":11.0,"s":"Effluent","g":"E5"},
    {"t":"2018-03-11","v":10.1,"s":"Effluent","g":"E5"},
    {"t":"2018-03-15","v":8.5,"s":"Effluent","g":"E5"},
    {"t":"2018-03-22","v":10.4,"s":"Effluent","g":"E5"},
    {"t":"2018-03-29","v":11.2,"s":"Effluent","g":"E5"},
    {"t":"2018-04-05","v":13.4,"s":"Effluent","g":"E5"},
    {"t":"2018-04-12","v":13.2,"s":"Effluent","g":"E5"},
    {"t":"2018-04-19","v":12.1,"s":"Effluent","g":"E5"},
    {"t":"2018-04-26","v":11.6,"s":"Effluent","g":"E5"},
    {"t":"2018-05-03","v":11.2,"s":"Effluent","g":"E5"},
    {"t":"2018-05-10","v":10.3,"s":"Effluent","g":"E5"},
    {"t":"2018-05-17","v":10.0,"s":"Effluent","g":"E5"},
    {"t":"2018-05-24","v":9.6,"s":"Effluent","g":"E5"},
    {"t":"2018-05-31","v":8.7,"s":"Effluent","g":"E5"},
    {"t":"2018-06-07","v":8.2,"s":"Effluent","g":"E5"},
    {"t":"2018-06-14","v":7.9,"s":"Effluent","g":"E5"},
    {"t":"2018-06-24","v":6.9,"s":"Effluent","g":"E5"},
    {"t":"2018-07-03","v":6.2,"s":"Effluent","g":"E5"},
    {"t":"2018-07-14","v":5.2,"s":"Effluent","g":"E5"},
    {"t":"2018-11-29","v":2.7,"s":"Effluent","g":"E5"},
    {"t":"2018-12-08","v":2.3,"s":"Effluent","g":"E5"},
    {"t":"2018-12-18","v":3.2,"s":"Effluent","g":"E5"},
    {"t":"2018-12-27","v":3.0,"s":"Effluent","g":"E5"},
    {"t":"2018-12-29","v":1.4,"s":"Effluent","g":"E5"}
  ]},
  "encoding": {
    "x": {
      "field": "t", "type": "temporal",
      "scale": {"domain": [{"year": 2012, "month": 1, "date": 1}, {"year": 2019, "month": 1, "date": 1}]},
      "axis": {
        "title": "Time", "titleFontSize": 36, "titlePadding": 30,
        "values": [
          {"year": 2012, "month": 1, "date": 1}, {"year": 2012, "month": 5, "date": 1}, {"year": 2012, "month": 9, "date": 1},
          {"year": 2013, "month": 1, "date": 1}, {"year": 2013, "month": 5, "date": 1}, {"year": 2013, "month": 9, "date": 1},
          {"year": 2014, "month": 1, "date": 1}, {"year": 2014, "month": 5, "date": 1}, {"year": 2014, "month": 9, "date": 1},
          {"year": 2015, "month": 1, "date": 1}, {"year": 2015, "month": 5, "date": 1}, {"year": 2015, "month": 9, "date": 1},
          {"year": 2016, "month": 1, "date": 1}, {"year": 2016, "month": 5, "date": 1}, {"year": 2016, "month": 9, "date": 1},
          {"year": 2017, "month": 1, "date": 1}, {"year": 2017, "month": 5, "date": 1}, {"year": 2017, "month": 9, "date": 1},
          {"year": 2018, "month": 1, "date": 1}, {"year": 2018, "month": 5, "date": 1}, {"year": 2018, "month": 9, "date": 1},
          {"year": 2019, "month": 1, "date": 1}
        ],
        "labelExpr": "month(datum.value) === 0 ? timeFormat(datum.value, '%-m/%-d/%y') : ''",
        "labelFontSize": 32, "labelPadding": 12, "tickSize": 7, "labelFlush": false, "labelOverlap": false
      }
    },
    "y": {
      "field": "v", "type": "quantitative",
      "scale": {"domain": [0, 40]},
      "axis": {"title": "Nitrate-N Concentration (ppm)", "titleFontSize": 35.5, "titlePadding": 12, "values": [0, 10, 20, 30, 40], "labelFontSize": 34, "labelPadding": 28, "tickSize": 8}
    }
  },
  "layer": [
    {
      "transform": [{"filter": "datum.s === 'Influent'"}],
      "mark": {"type": "line", "color": "black", "strokeWidth": 2.2},
      "encoding": {"detail": {"field": "g"}}
    },
    {
      "transform": [{"filter": "datum.s === 'Influent'"}],
      "mark": {"type": "point", "shape": "circle", "filled": true, "fill": "black", "stroke": "black", "strokeWidth": 1.2, "size": 280, "opacity": 1}
    },
    {
      "transform": [{"filter": "datum.s === 'Effluent'"}],
      "mark": {"type": "line", "color": "black", "strokeWidth": 2.2},
      "encoding": {"detail": {"field": "g"}}
    },
    {
      "transform": [{"filter": "datum.s === 'Effluent'"}],
      "mark": {"type": "point", "shape": "triangle-down", "filled": true, "fill": "white", "stroke": "black", "strokeWidth": 1.3, "size": 280, "opacity": 1}
    },
    {
      "mark": {"type": "point", "opacity": 0, "strokeWidth": 2},
      "encoding": {
        "shape": {"field": "s", "type": "nominal", "scale": {"domain": ["Influent", "Effluent"], "range": ["M-1,0H1M-0.21,0A0.21,0.21 0 1,0 0.21,0A0.21,0.21 0 1,0 -0.21,0Z", "M-1,0H-0.14M0.14,0H1M-0.18,-0.07L0.18,-0.07L0,0.24Z"]},
          "legend": {"title": null, "orient": "none", "legendX": 665, "legendY": 22, "strokeColor": "black", "fillColor": "white", "padding": 14, "symbolSize": 6724, "clipHeight": 43, "labelFontSize": 35, "labelFont": "Liberation Sans", "labelColor": "black", "labelOffset": 20, "symbolStrokeWidth": 2, "symbolOpacity": 1}},
        "fill": {"field": "s", "type": "nominal", "scale": {"domain": ["Influent", "Effluent"], "range": ["black", "white"]}},
        "stroke": {"field": "s", "type": "nominal", "scale": {"domain": ["Influent", "Effluent"], "range": ["black", "black"]}}
      }
    }
  ]
}
